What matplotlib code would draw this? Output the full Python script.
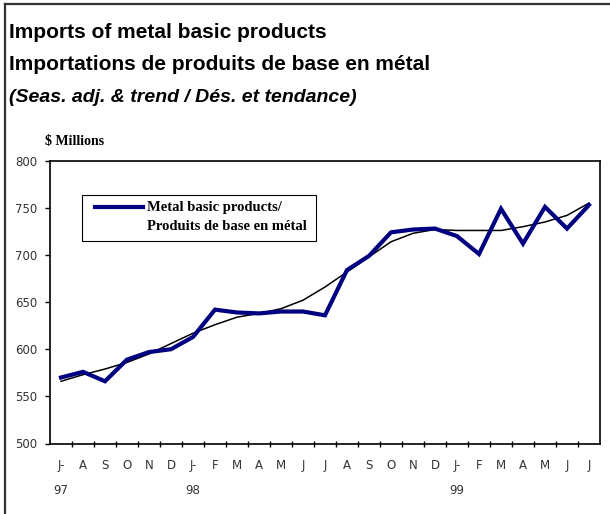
"""Imports of metal basic products - seasonally adjusted series with trend, Jul 1997 to Jul 1999."""
import matplotlib

matplotlib.use("Agg")
import matplotlib.pyplot as plt
from matplotlib.lines import Line2D
from matplotlib.patches import Rectangle

months = ["J-\n97", "A", "S", "O", "N", "D", "J-\n98", "F", "M", "A", "M", "J",
          "J", "A", "S", "O", "N", "D", "J-\n99", "F", "M", "A", "M", "J", "J"]
seas_adj = [570, 576, 566, 589, 597, 600, 613, 642, 639, 638, 640, 640, 636,
            684, 699, 724, 727, 728, 720, 701, 749, 712, 751, 728, 753]
trend = [566, 573, 579, 586, 595, 606, 617, 626, 634, 638, 643, 652, 666,
         682, 698, 714, 723, 727, 726, 726, 726, 730, 735, 742, 755]
y_ticks = [500, 550, 600, 650, 700, 750, 800]

W, H = 610, 514
fig = plt.figure(figsize=(W / 100, H / 100), dpi=100)
ax = fig.add_axes([50 / W, 1 - 443.5 / H, 550 / W, 282.8 / H])

x = list(range(len(months)))
ax.plot(x, seas_adj, color="#000080", lw=3.0, solid_joinstyle="miter", zorder=3)
ax.plot(x, trend, color="black", lw=1.1, zorder=2)

ax.set_xlim(-0.5, len(months) - 0.5)
ax.set_ylim(500, 800)
ax.set_yticks(y_ticks)
ax.set_yticklabels([str(v) for v in y_ticks], fontsize=8.5, color="#333333",
                   family="DejaVu Sans")
ax.tick_params(axis="y", direction="out", length=3.6, width=1, pad=5.5)

# month labels sit between the boundary ticks
ax.set_xticks(x)
ax.set_xticklabels(months, fontsize=8.5, color="#333333", linespacing=2.2,
                   family="DejaVu Sans", va="top", ha="center")
ax.tick_params(axis="x", which="major", length=0, pad=11.5)
ax.set_xticks([i + 0.5 for i in x[:-1]], minor=True)
ax.tick_params(axis="x", which="minor", direction="inout", length=5, width=1)

for s in ax.spines.values():
    s.set_linewidth(1.2)
    s.set_color("black")

# legend box (only the seasonally adjusted series is keyed)
box_x0, box_x1 = (82 - 50) / 550, (316 - 50) / 550
box_y0, box_y1 = (443.5 - 241) / 282.8, (443.5 - 195) / 282.8
ax.add_patch(Rectangle((box_x0, box_y0), box_x1 - box_x0, box_y1 - box_y0,
                       transform=ax.transAxes, facecolor="white", edgecolor="black",
                       lw=0.8, zorder=4))
ax.add_line(Line2D([45 / 550, 93 / 550], [0.836, 0.836], transform=ax.transAxes,
                   color="#000080", lw=3.0, zorder=5))
ax.text(97 / 550, 0.836, "Metal basic products/", transform=ax.transAxes,
        family="Liberation Serif", weight="bold", fontsize=10.5, va="center", zorder=5)
ax.text(97 / 550, 0.7656, "Produits de base en métal", transform=ax.transAxes,
        family="Liberation Serif", weight="bold", fontsize=10.5, va="center", zorder=5)

fig.text(9 / W, 1 - 33 / H, "Imports of metal basic products",
         fontsize=15, weight="bold", family="Liberation Sans", va="center")
fig.text(9 / W, 1 - 65 / H, "Importations de produits de base en métal",
         fontsize=15, weight="bold", family="Liberation Sans", va="center")
fig.text(9 / W, 1 - 97 / H, "(Seas. adj. & trend / Dés. et tendance)",
         fontsize=14, weight="bold", style="italic", family="Liberation Sans",
         va="center")
fig.text(45 / W, 1 - 141 / H, "$ Millions", fontsize=10, weight="bold",
         family="Liberation Serif", va="center")

# frame lines on the top and left edge of the picture
fig.add_artist(Line2D([5 / W, 1], [1 - 4 / H, 1 - 4 / H], color="#333333", lw=1.6,
                      transform=fig.transFigure))
fig.add_artist(Line2D([5 / W, 5 / W], [0, 1 - 4 / H], color="#333333", lw=1.6,
                      transform=fig.transFigure))

fig.savefig("out.png", dpi=100)
